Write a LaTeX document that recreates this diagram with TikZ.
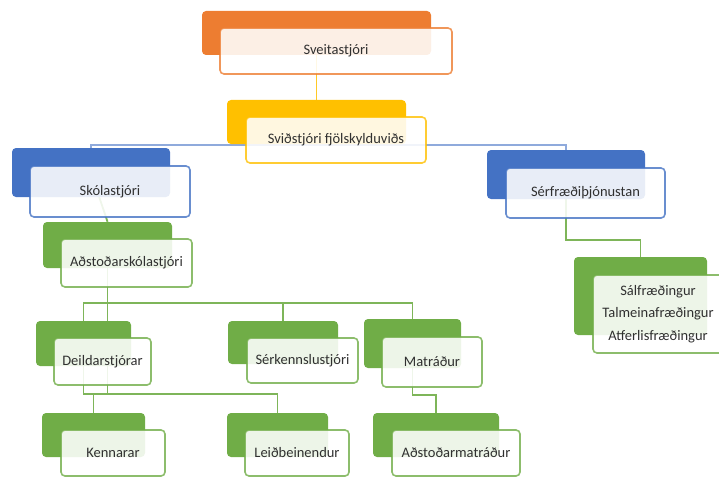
\documentclass[tikz,border=0pt]{standalone}
\usepackage{fontspec}
\setmainfont{Carlito}
\usetikzlibrary{backgrounds}
\definecolor{offorange}{RGB}{237,125,49}
\definecolor{offgold}{RGB}{255,192,0}
\definecolor{offblue}{RGB}{68,114,196}
\definecolor{offgreen}{RGB}{112,173,71}
\definecolor{txtgray}{RGB}{48,48,48}

\begin{document}
\begin{tikzpicture}[x=1pt,y=-1pt,
  sz/.style 2 args={minimum width=#1pt,minimum height=#2pt},
  orgback/.style={rectangle,rounded corners=4pt,fill=#1,inner sep=0pt},
  orgfront/.style={rectangle,rounded corners=4pt,draw=#1,draw opacity=0.8,line width=1.6pt,
    fill=white,fill opacity=0.88,text opacity=1,inner sep=0pt,text=txtgray,
    font=\fontsize{14.5}{22.5}\selectfont,align=center},
  link/.style={draw=#1,line width=1.8pt}]
  \useasboundingbox (0,0) rectangle (719,476);
  % top of the chart
  \node[orgback=offorange,sz={229}{44}] (sveitB) at (316.5,33) {};
  \node[orgfront=offorange,sz={232}{46}] (sveit) at (336,51) {Sveitastjóri};
  \node[orgback=offgold,sz={179}{44}] (svidB) at (316.5,122) {};
  \node[orgfront=offgold,sz={180}{46}] (svid) at (336,140) {Sviðstjóri fjölskylduviðs};
  % blue level
  \node[orgback=offblue,sz={158}{49}] (skolaB) at (91,172.5) {};
  \node[orgfront=offblue,sz={160}{51}] (skola) at (110,191.5) {Skólastjóri};
  \node[orgback=offblue,sz={158}{49}] (serfrB) at (566,174.5) {};
  \node[orgfront=offblue,sz={159}{50}] (serfr) at (585.5,193) {Sérfræðiþjónustan};
  % green levels
  \node[orgback=offgreen,sz={129}{46}] (adstB) at (107.5,245) {};
  \node[orgfront=offgreen,sz={131}{48}] (adst) at (126.5,263) {Aðstoðarskólastjóri};
  \node[orgback=offgreen,sz={133}{78}] (salfB) at (640.5,296) {};
  \node[orgfront=offgreen,sz={130}{78}] (salf) at (658,314) {Sálfræðingur\\Talmeinafræðingur\\Atferlisfræðingur};
  \node[orgback=offgreen,sz={95}{45}] (deildB) at (83.5,343.5) {};
  \node[orgfront=offgreen,sz={97}{47}] (deild) at (102.5,361.5) {Deildarstjórar};
  \node[orgback=offgreen,sz={110}{43}] (serkB) at (283,342.5) {};
  \node[orgfront=offgreen,sz={111}{45}] (serk) at (302.5,360.5) {Sérkennslustjóri};
  \node[orgback=offgreen,sz={97}{49}] (matrB) at (412.5,343.5) {};
  \node[orgfront=offgreen,sz={100}{50}] (matr) at (432,362) {Matráður};
  \node[orgback=offgreen,sz={103}{44}] (kennB) at (93.5,435) {};
  \node[orgfront=offgreen,sz={104}{46}] (kenn) at (113,453) {Kennarar};
  \node[orgback=offgreen,sz={101}{44}] (leidB) at (277.5,435) {};
  \node[orgfront=offgreen,sz={104}{46}] (leid) at (297,453) {Leiðbeinendur};
  \node[orgback=offgreen,sz={126}{44}] (admB) at (436,435) {};
  \node[orgfront=offgreen,sz={128}{46}] (adm) at (456,453) {Aðstoðarmatráður};
  % bus levels
  \coordinate (bus1) at (0,145);
  \coordinate (bus2) at (0,240);
  \coordinate (bus3) at (0,303);
  \coordinate (bus4) at (0,394);
  \coordinate (bus5) at (0,395);
  \begin{pgfonlayer}{background}
    \draw[link=offgold!85] (sveitB.center) -- (svidB.north);
    \draw[link=offblue!60] (svidB.center) -- (svidB.center |- bus1) -| (skolaB.north);
    \draw[link=offblue!60] (svidB.center) -- (svidB.center |- bus1) -| (serfrB.north);
    \draw[link=offgreen!90] (skolaB.center) -- (adstB.north);
    \draw[link=offgreen!90] (serfrB.center) -- (serfrB.center |- bus2) -| (salfB.north);
    \draw[link=offgreen!90] (adstB.center) -- (adstB.center |- bus3) -| (deildB.north);
    \draw[link=offgreen!90] (adstB.center) -- (adstB.center |- bus3) -| (serkB.north);
    \draw[link=offgreen!90] (adstB.center) -- (adstB.center |- bus3) -| (matrB.north);
    \draw[link=offgreen!90] (adstB.center) -- (adstB.center |- bus4);
    \draw[link=offgreen!90] (deildB.center) -- (deildB.center |- bus4) -| (kennB.north);
    \draw[link=offgreen!90] (deildB.center) -- (deildB.center |- bus4) -| (leidB.north);
    \draw[link=offgreen!90] (matrB.center) -- (matrB.center |- bus5) -| (admB.north);
  \end{pgfonlayer}
\end{tikzpicture}
\end{document}
